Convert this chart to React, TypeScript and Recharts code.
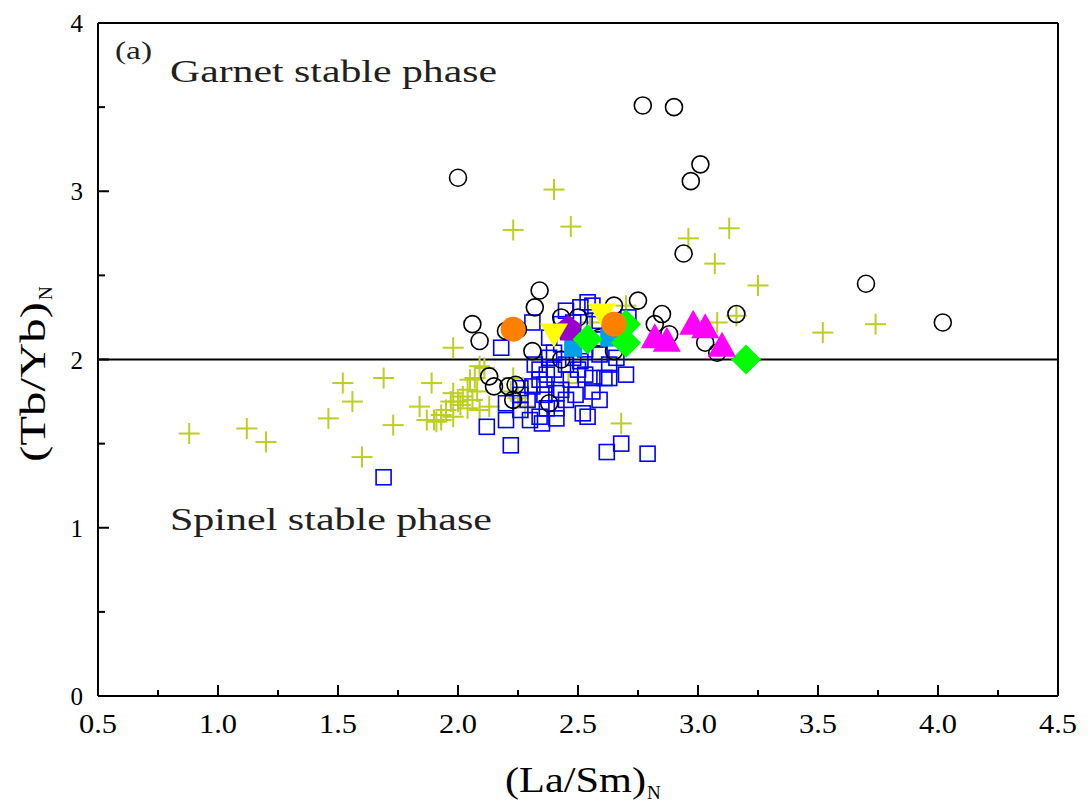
import React from 'react';
import { ScatterChart, Scatter, XAxis, YAxis, ReferenceLine, Customized } from 'recharts';

type P = [number, number];

const xTicks = [0.5, 0.75, 1, 1.25, 1.5, 1.75, 2, 2.25, 2.5, 2.75, 3, 3.25, 3.5, 3.75, 4, 4.25, 4.5];
const yTicks = [0, 0.5, 1, 1.5, 2, 2.5, 3, 3.5, 4];

const crossPts: P[] = [
  [0.88, 1.56], [1.12, 1.59], [1.2, 1.51], [1.46, 1.65], [1.52, 1.86], [1.56, 1.75], [1.6, 1.42], [1.69, 1.89], [1.73, 1.61],
  [1.98, 2.07], [1.89, 1.86], [2.09, 1.96], [1.84, 1.72], [2.05, 1.88], [2.07, 1.89], [2.04, 1.82], [2.08, 1.81], [2.02, 1.78],
  [1.98, 1.8], [2.0, 1.75], [1.97, 1.75], [1.95, 1.7], [2.01, 1.73], [2.04, 1.71], [1.93, 1.67], [1.9, 1.64], [1.87, 1.64],
  [1.91, 1.63], [1.93, 1.64], [1.98, 1.66], [2.09, 1.7], [2.13, 1.72], [2.06, 1.76], [2.23, 1.89], [2.25, 1.77], [2.28, 1.72],
  [2.22, 1.81], [2.46, 1.86], [2.68, 1.62], [2.11, 1.95],
  [2.4, 3.01], [2.23, 2.77], [2.47, 2.79], [2.96, 2.72], [3.13, 2.78], [3.07, 2.57], [3.25, 2.44], [3.16, 2.26], [3.08, 2.22],
  [3.52, 2.16], [3.74, 2.21], [2.7, 2.32], [2.55, 2.22],
];

const squarePts: P[] = [
  [1.69, 1.3], [2.22, 1.49], [2.62, 1.45], [2.68, 1.5], [2.79, 1.44], [2.12, 1.6], [2.2, 1.64], [2.3, 1.64], [2.35, 1.62],
  [2.41, 1.65], [2.52, 1.68], [2.54, 1.66], [2.56, 1.81], [2.61, 1.89], [2.63, 1.89], [2.56, 1.89], [2.41, 1.8], [2.29, 1.76],
  [2.31, 1.84], [2.34, 1.88], [2.37, 1.91], [2.4, 1.94], [2.5, 1.94], [2.51, 1.99], [2.45, 1.97], [2.48, 2.01], [2.38, 2.13],
  [2.38, 2.01], [2.34, 1.94], [2.71, 2.25], [2.66, 2.01], [2.37, 1.71], [2.41, 1.71], [2.34, 1.66], [2.2, 1.74], [2.18, 2.07],
  [2.45, 2.29], [2.54, 2.34], [2.51, 2.31], [2.31, 2.22], [2.56, 2.32], [2.43, 2.21], [2.57, 2.12], [2.49, 2.12], [2.43, 2.09],
  [2.53, 2.06], [2.59, 2.03], [2.47, 1.88], [2.43, 1.82], [2.49, 1.79], [2.36, 1.79], [2.26, 1.7], [2.45, 1.76], [2.59, 1.76],
  [2.53, 1.91], [2.63, 1.97], [2.7, 1.91], [2.68, 2.18], [2.4, 2.04], [2.32, 1.97], [2.36, 1.85], [2.26, 1.79], [2.59, 2.23],
  [2.48, 2.22], [2.57, 2.21], [2.26, 1.83],
];

const circlePts: P[] = [
  [2.0, 3.08], [2.77, 3.51], [2.9, 3.5], [3.01, 3.16], [2.97, 3.06], [2.94, 2.63], [2.34, 2.41], [2.32, 2.31], [2.06, 2.21],
  [2.09, 2.11], [2.2, 2.17], [2.25, 2.18], [2.31, 2.05], [2.43, 2.0], [2.43, 2.25], [2.5, 2.25], [2.13, 1.9], [2.15, 1.84],
  [2.21, 1.84], [2.24, 1.85], [2.23, 1.76], [2.38, 1.74], [2.75, 2.35], [2.65, 2.32], [2.85, 2.27], [2.82, 2.21], [2.88, 2.15],
  [2.59, 2.13], [2.65, 2.05], [3.03, 2.1], [3.08, 2.04], [3.7, 2.45], [4.02, 2.22], [3.16, 2.27],
];

const cyanPts: P[] = [[2.48, 2.07], [2.63, 2.13]];
const purplePts: P[] = [[2.46, 2.18]];
const yellowPts: P[] = [[2.4, 2.16], [2.6, 2.28]];
const greenPts: P[] = [[2.54, 2.12], [2.7, 2.21], [2.7, 2.1], [3.2, 2.0]];
const orangePts: P[] = [[2.23, 2.18], [2.65, 2.21]];
const magentaPts: P[] = [[2.82, 2.12], [2.87, 2.1], [2.98, 2.2], [3.03, 2.18], [3.1, 2.07]];

const toData = (pts: P[]) => pts.map(([x, y]) => ({ x, y }));

const FONT_STYLE = { fontFamily: "'Liberation Serif', 'Times New Roman', Times, serif" };
const TEXT_COLOR = '#231f20';

const XTick = (props: any) => {
  const { x, y, payload } = props;
  const v = payload.value as number;
  const major = Math.abs(v * 2 - Math.round(v * 2)) < 1e-6;
  return (
    <g>
      <line x1={x} x2={x} y1={y} y2={y - (major ? 11 : 6)} stroke="#000" strokeWidth={2} />
      {major && (
        <text x={x} y={y + 37} textAnchor="middle" fontSize={28} style={FONT_STYLE} fill="#000" textLength={38} lengthAdjust="spacingAndGlyphs">
          {v.toFixed(1)}
        </text>
      )}
    </g>
  );
};

const YTick = (props: any) => {
  const { x, y, payload } = props;
  const v = payload.value as number;
  const major = Math.abs(v - Math.round(v)) < 1e-6;
  return (
    <g>
      <line x1={x} x2={x + (major ? 11 : 7)} y1={y} y2={y} stroke="#000" strokeWidth={2} />
      {major && (
        <text x={x - 15} y={y + 9} textAnchor="end" fontSize={25} style={FONT_STYLE} fill="#000">
          {String(v)}
        </text>
      )}
    </g>
  );
};

const CircleShape = (p: any) => <circle cx={p.cx} cy={p.cy} r={8.5} fill="none" stroke="#000" strokeWidth={1.6} />;
const SquareShape = (p: any) => <rect x={p.cx - 7.5} y={p.cy - 7.5} width={15} height={15} fill="none" stroke="#0000ff" strokeWidth={1.6} />;
const CrossShape = (p: any) => (
  <g stroke="#bccf22" strokeWidth={2}>
    <line x1={p.cx - 10.5} x2={p.cx + 10.5} y1={p.cy} y2={p.cy} />
    <line x1={p.cx} x2={p.cx} y1={p.cy - 10.5} y2={p.cy + 10.5} />
  </g>
);
const CyanShape = (p: any) => <rect x={p.cx - 9} y={p.cy - 9} width={18} height={18} fill="#00a0e9" />;
const PurpleShape = (p: any) => {
  const r = 14;
  const pts = [0, 1, 2, 3, 4]
    .map((i) => {
      const a = -Math.PI / 2 + (i * 2 * Math.PI) / 5;
      return `${p.cx + r * Math.cos(a)},${p.cy + r * Math.sin(a)}`;
    })
    .join(' ');
  return <polygon points={pts} fill="#9900cc" />;
};
const YellowShape = (p: any) => (
  <polygon points={`${p.cx - 14},${p.cy - 9} ${p.cx + 14},${p.cy - 9} ${p.cx},${p.cy + 15}`} fill="#ffff00" />
);
const GreenShape = (p: any) => (
  <polygon points={`${p.cx},${p.cy - 15} ${p.cx + 15},${p.cy} ${p.cx},${p.cy + 15} ${p.cx - 15},${p.cy}`} fill="#00ff00" />
);
const OrangeShape = (p: any) => <circle cx={p.cx} cy={p.cy} r={12.5} fill="#ff7f00" />;
const MagentaShape = (p: any) => (
  <polygon points={`${p.cx - 14},${p.cy + 9} ${p.cx + 14},${p.cy + 9} ${p.cx},${p.cy - 16}`} fill="#ff00ff" />
);

const Annotations = () => (
  <g>
    <text x={107} y={51} fontSize={26} style={FONT_STYLE} fill={TEXT_COLOR} textLength={37} lengthAdjust="spacingAndGlyphs">
      (a)
    </text>
    <text x={162} y={74} fontSize={32} style={FONT_STYLE} fill={TEXT_COLOR} textLength={327} lengthAdjust="spacingAndGlyphs">
      Garnet stable phase
    </text>
    <text x={162} y={522} fontSize={32} style={FONT_STYLE} fill={TEXT_COLOR} textLength={322} lengthAdjust="spacingAndGlyphs">
      Spinel stable phase
    </text>
    <text x={497} y={784} fontSize={36} style={FONT_STYLE} fill="#000" textLength={141} lengthAdjust="spacingAndGlyphs">
      (La/Sm)
    </text>
    <text x={639} y={791} fontSize={19} style={FONT_STYLE} fill="#000">
      N
    </text>
    <g transform="translate(37, 454) rotate(-90)">
      <text x={0} y={0} fontSize={36} style={FONT_STYLE} fill="#000" textLength={160} lengthAdjust="spacingAndGlyphs">
        (Tb/Yb)
      </text>
      <text x={162} y={7} fontSize={19} style={FONT_STYLE} fill="#000">
        N
      </text>
    </g>
  </g>
);

export default function App() {
  return (
    <div style={{ width: 1080, height: 800, background: '#fff' }}>
      <ScatterChart width={1080} height={800} margin={{ top: 15, right: 30, bottom: 52, left: 10 }}>
        <XAxis
          type="number"
          dataKey="x"
          domain={[0.5, 4.5]}
          ticks={xTicks}
          interval={0}
          tickSize={0}
          tickMargin={0}
          height={60}
          axisLine={{ stroke: '#000', strokeWidth: 2 }}
          tick={<XTick />}
          allowDataOverflow
        />
        <YAxis
          type="number"
          dataKey="y"
          domain={[0, 4]}
          ticks={yTicks}
          interval={0}
          tickSize={0}
          tickMargin={0}
          width={80}
          axisLine={{ stroke: '#000', strokeWidth: 2 }}
          tick={<YTick />}
          allowDataOverflow
        />
        <ReferenceLine y={4} stroke="#000" strokeWidth={2} />
        <ReferenceLine x={4.5} stroke="#000" strokeWidth={2} />
        <ReferenceLine y={2} stroke="#000" strokeWidth={2} />
        <Scatter data={toData(crossPts)} shape={CrossShape} isAnimationActive={false} />
        <Scatter data={toData(squarePts)} shape={SquareShape} isAnimationActive={false} />
        <Scatter data={toData(circlePts)} shape={CircleShape} isAnimationActive={false} />
        <Scatter data={toData(cyanPts)} shape={CyanShape} isAnimationActive={false} />
        <Scatter data={toData(purplePts)} shape={PurpleShape} isAnimationActive={false} />
        <Scatter data={toData(yellowPts)} shape={YellowShape} isAnimationActive={false} />
        <Scatter data={toData(greenPts)} shape={GreenShape} isAnimationActive={false} />
        <Scatter data={toData(orangePts)} shape={OrangeShape} isAnimationActive={false} />
        <Scatter data={toData(magentaPts)} shape={MagentaShape} isAnimationActive={false} />
        <Customized component={Annotations} />
      </ScatterChart>
    </div>
  );
}
